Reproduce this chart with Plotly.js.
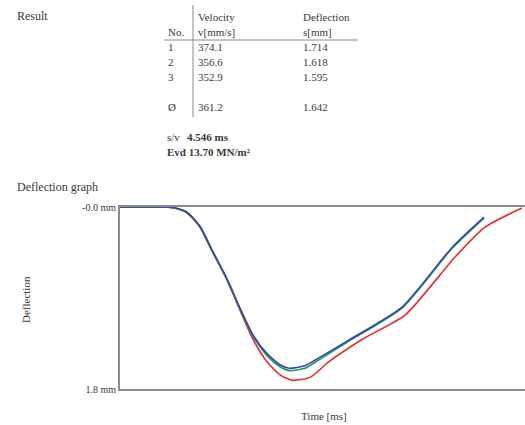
<!DOCTYPE html>
<html>
<head>
<meta charset="utf-8">
<script src="https://cdn.plot.ly/plotly-3.0.1.min.js"></script>
<style>html,body{margin:0;padding:0;background:#fff;}#chart{width:525px;height:425px;}</style>
</head>
<body>
<div id="chart"></div>
<script>
// Deflection curves (time in ms, deflection in mm)
const timeRed   = [0, 4.44, 5.43, 6.62, 7.90, 9.19, 10.57, 11.85, 13.14, 14.52, 15.80, 16.99, 18.77, 20.64, 23.90, 28.15, 33.09, 36.05, 39.70];
const defRed    = [0, 0, 0.01, 0.06, 0.20, 0.455, 0.72, 1.02, 1.31, 1.53, 1.66, 1.714, 1.685, 1.53, 1.31, 1.07, 0.495, 0.20, 0.01];
const timeGreen = [0, 4.44, 5.43, 6.62, 7.90, 9.19, 10.57, 11.85, 13.14, 14.52, 15.80, 16.69, 18.27, 19.26, 22.62, 27.85, 32.79, 35.95];
const defGreen  = [0, 0, 0.01, 0.055, 0.195, 0.45, 0.715, 1.005, 1.28, 1.47, 1.58, 1.618, 1.595, 1.535, 1.325, 1.0, 0.41, 0.11];
const timeBlue  = [0, 4.44, 5.43, 6.62, 7.90, 9.19, 10.57, 11.85, 13.14, 14.52, 15.80, 16.69, 18.27, 19.26, 22.62, 27.85, 32.79, 35.95];
const defBlue   = [0, 0, 0.01, 0.05, 0.19, 0.445, 0.71, 1.0, 1.265, 1.45, 1.56, 1.595, 1.57, 1.515, 1.315, 0.99, 0.40, 0.10];

// Result table
const rowNo      = ["1", "2", "3", "Ø"];
const velocity   = ["374.1", "356.6", "352.9", "361.2"];
const deflection = ["1.714", "1.618", "1.595", "1.642"];
const svValue  = "4.546 ms";
const evdValue = "13.70 MN/m²";
const yTickVals = [0, 1.8];
const yTickText = ["-0.0 mm", "1.8 mm"];

const W = 525, H = 425, L = 120, R = 525, T = 207, B = 389;
const px = x => (x - L) / (R - L);
const py = y => (B - y) / (B - T);
const FONT = "Liberation Serif, Times New Roman, serif";
const TC = "#3a3a3a";

function txt(x, y, s, opts) {
  return Object.assign({
    xref: "paper", yref: "paper", x: px(x), y: py(y), text: s, showarrow: false,
    xanchor: "left", yanchor: "middle", font: {family: FONT, size: 11, color: TC}
  }, opts || {});
}

const ann = [];
ann.push(txt(15, 16, "Result", {font: {family: FONT, size: 12, color: TC}}));
ann.push(txt(196, 17, "Velocity"));
ann.push(txt(301, 17, "Deflection"));
ann.push(txt(166, 32, "No."));
ann.push(txt(196, 32, "v[mm/s]"));
ann.push(txt(301, 32, "s[mm]"));
const rowY = [47, 62, 77, 107];
for (let i = 0; i < rowNo.length; i++) {
  ann.push(txt(166, rowY[i], rowNo[i]));
  ann.push(txt(196, rowY[i], velocity[i]));
  ann.push(txt(301, rowY[i], deflection[i]));
}
ann.push(txt(165, 137, "s/v"));
ann.push(txt(185, 137, "<b>" + svValue + "</b>"));
ann.push(txt(165, 152, "<b>Evd " + evdValue + "</b>"));
ann.push(txt(15, 187, "Deflection graph", {font: {family: FONT, size: 12, color: TC}}));
ann.push(txt(26, 300, "Deflection", {xanchor: "center", textangle: -90}));
ann.push(txt(324, 416, "Time [ms]", {xanchor: "center"}));

const shapes = [
  {type: "line", xref: "paper", yref: "paper", x0: px(164), x1: px(358), y0: py(40), y1: py(40), line: {color: "#8a8a8a", width: 1}},
  {type: "line", xref: "paper", yref: "paper", x0: px(193), x1: px(193), y0: py(5), y1: py(117), line: {color: "#8a8a8a", width: 1}}
];

const traces = [
  {x: timeRed, y: defRed, type: "scatter", mode: "lines", name: "1", line: {color: "#e82a2a", width: 1.6, shape: "spline", smoothing: 0.6}},
  {x: timeGreen, y: defGreen, type: "scatter", mode: "lines", name: "2", line: {color: "#1f9a5a", width: 1.6, shape: "spline", smoothing: 0.6}},
  {x: timeBlue, y: defBlue, type: "scatter", mode: "lines", name: "3", line: {color: "#3646b0", width: 1.6, shape: "spline", smoothing: 0.6}}
];

const layout = {
  width: W, height: H,
  margin: {l: L, r: W - R, t: T, b: H - B, pad: 0},
  paper_bgcolor: "#fff", plot_bgcolor: "#fff",
  showlegend: false,
  font: {family: FONT, size: 11, color: TC},
  xaxis: {range: [0, 40], showgrid: false, zeroline: false, showticklabels: false, ticks: "",
          showline: true, mirror: true, linecolor: "#8c8c8c", linewidth: 2},
  yaxis: {range: [1.8, 0], showgrid: false, zeroline: false, ticks: "",
          tickvals: yTickVals, ticktext: yTickText, tickfont: {family: FONT, size: 10, color: TC},
          ticklabelstandoff: 0,
          showline: true, linecolor: "#8c8c8c", linewidth: 2},
  annotations: ann,
  shapes: shapes
};

Plotly.newPlot("chart", traces, layout, {displayModeBar: false, staticPlot: true});
</script>
</body>
</html>
